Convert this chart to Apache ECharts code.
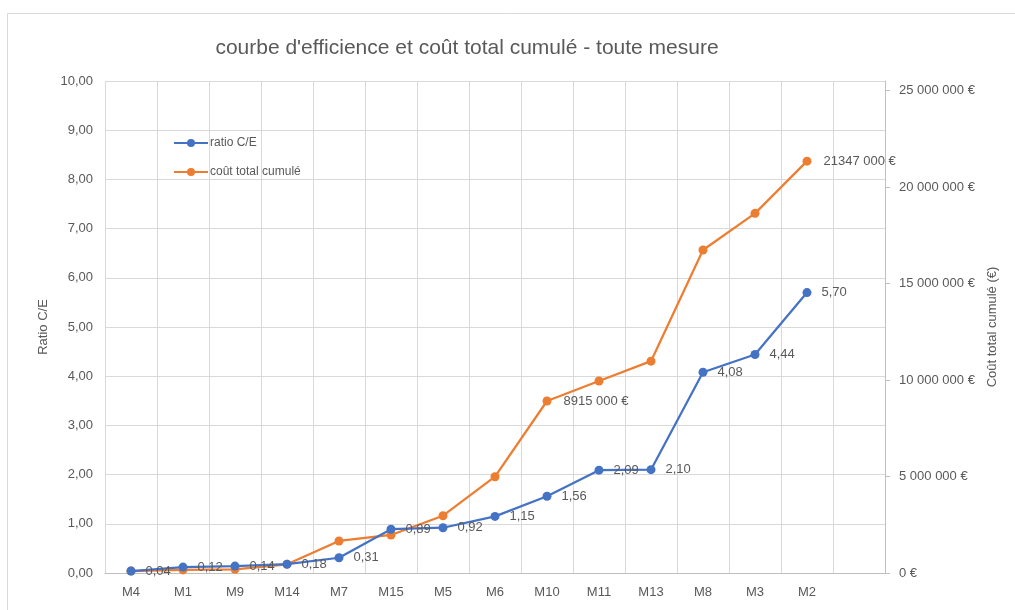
<!DOCTYPE html>
<html>
<head>
<meta charset="utf-8">
<script src="https://cdn.jsdelivr.net/npm/echarts@6/dist/echarts.min.js"></script>
<style>
html,body{margin:0;padding:0;background:#fff;}
#chart{width:1015px;height:610px;}
</style>
</head>
<body>
<div id="chart"></div>
<script>
var categories = ['M4','M1','M9','M14','M7','M15','M5','M6','M10','M11','M13','M8','M3','M2',''];
var ratioCE = [0.04,0.12,0.14,0.18,0.31,0.89,0.92,1.15,1.56,2.09,2.10,4.08,4.44,5.70];
var coutCumule = [100000,160000,190000,450000,1660000,1970000,2970000,4990000,8915000,9950000,10980000,16740000,18640000,21347000];
var coutLabelIdx = [8,13];
var leftTicks = {min:0,max:10,interval:1};
var rightTicks = {min:0,max:25500000,interval:5000000};

var FONT = 'Liberation Sans';
var TXT = '#595959';

function fmtRatio(v){ return Number(v).toFixed(2).replace('.', ','); }
function fmtEuroAxis(v){
  if (v === 0) return '0 €';
  var s = String(Math.round(v));
  var out = '';
  while (s.length > 3){ out = ' ' + s.slice(-3) + out; s = s.slice(0, -3); }
  return s + out + ' €';
}
function fmtEuroLabel(v){
  var th = Math.floor(v/1000), rest = v % 1000;
  var r = String(rest); while (r.length < 3) r = '0' + r;
  return th + ' ' + r + ' €';
}

var chart = echarts.init(document.getElementById('chart'));
chart.setOption({
  backgroundColor:'#fff',
  animation:false,
  textStyle:{fontFamily:FONT, color:TXT},
  graphic:[{
    type:'rect', silent:true, z:-10,
    shape:{x:7.5, y:13.5, width:1100, height:700},
    style:{fill:'none', stroke:'#d9d9d9', lineWidth:1}
  }],
  title:{
    text:"courbe d'efficience et coût total cumulé - toute mesure",
    left:462, top:33, textAlign:'center',
    textStyle:{fontFamily:FONT, fontSize:21, fontWeight:'normal', color:TXT}
  },
  legend:{
    orient:'vertical', left:168, top:132, itemGap:17,
    itemWidth:34, itemHeight:10,
    textStyle:{fontFamily:FONT, fontSize:12, color:TXT, padding:[0,0,0,-3]},
    data:['ratio C/E','coût total cumulé']
  },
  grid:{left:105, right:130, top:81, bottom:37, containLabel:false},
  xAxis:{
    type:'category', data:categories, boundaryGap:true,
    axisLine:{lineStyle:{color:'#bfbfbf', width:1}},
    axisTick:{show:false},
    axisLabel:{color:TXT, fontSize:13, fontFamily:FONT, margin:13, interval:0},
    splitLine:{show:true, interval:0, lineStyle:{color:'#d9d9d9', width:1}}
  },
  yAxis:[{
    type:'value', min:leftTicks.min, max:leftTicks.max, interval:leftTicks.interval,
    name:'Ratio C/E', nameLocation:'middle', nameGap:53, nameRotate:90,
    nameTextStyle:{color:TXT, fontSize:13, fontFamily:FONT},
    axisLine:{show:false}, axisTick:{show:false},
    axisLabel:{color:TXT, fontSize:13, fontFamily:FONT, margin:12, formatter:fmtRatio},
    splitLine:{show:true, lineStyle:{color:'#d9d9d9', width:1}}
  },{
    type:'value', min:rightTicks.min, max:rightTicks.max, interval:rightTicks.interval,
    position:'right',
    name:'Coût total cumulé (€)', nameLocation:'middle', nameGap:100, nameRotate:90,
    nameTextStyle:{color:TXT, fontSize:13, fontFamily:FONT},
    axisLine:{show:true, lineStyle:{color:'#bfbfbf', width:1}},
    axisTick:{show:true, inside:false, length:5, lineStyle:{color:'#bfbfbf'}},
    axisLabel:{color:TXT, fontSize:13, fontFamily:FONT, margin:14, formatter:fmtEuroAxis, showMaxLabel:false},
    splitLine:{show:false}
  }],
  series:[{
    name:'coût total cumulé', type:'line', yAxisIndex:1,
    data:coutCumule.map(function(v,i){
      return {value:v, label:{show:coutLabelIdx.indexOf(i) >= 0}};
    }),
    symbol:'circle', symbolSize:9,
    lineStyle:{color:'#ED7D31', width:2.25},
    itemStyle:{color:'#ED7D31'},
    label:{position:'right', distance:12, color:TXT, fontSize:13, fontFamily:FONT,
      formatter:function(p){ return fmtEuroLabel(p.value); }},
    z:2
  },{
    name:'ratio C/E', type:'line', yAxisIndex:0,
    data:ratioCE,
    symbol:'circle', symbolSize:9,
    lineStyle:{color:'#4472C4', width:2.25},
    itemStyle:{color:'#4472C4'},
    label:{show:true, position:'right', distance:10, color:TXT, fontSize:13, fontFamily:FONT,
      formatter:function(p){ return fmtRatio(p.value); }},
    z:3
  }]
});
</script>
</body>
</html>
